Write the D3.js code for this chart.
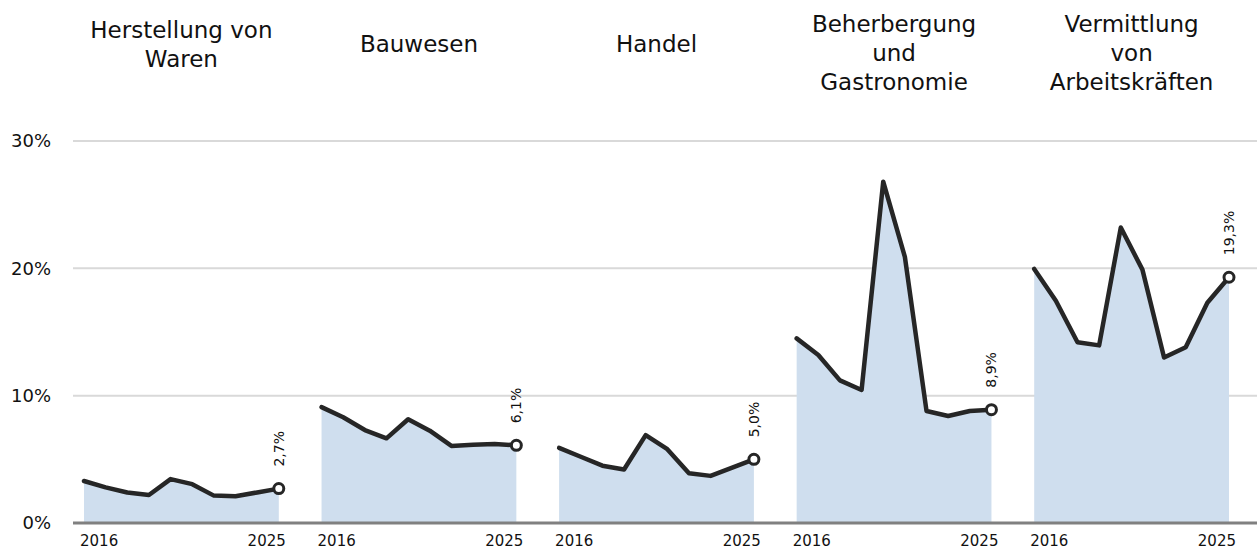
<!DOCTYPE html>
<html>
<head>
<meta charset="utf-8">
<script src="https://cdn.jsdelivr.net/npm/d3@7"></script>
<style>
  body { margin: 0; background: #fff; }
  svg { display: block; font-family: "DejaVu Sans", Verdana, sans-serif; }
</style>
</head>
<body>
<div id="chart"></div>
<script>
const years = [2016, 2017, 2018, 2019, 2020, 2021, 2022, 2023, 2024, 2025];
const sectors = [
  ["Herstellung von", "Waren"],
  ["Bauwesen"],
  ["Handel"],
  ["Beherbergung", "und", "Gastronomie"],
  ["Vermittlung", "von", "Arbeitskräften"]
];
const herstellung = [3.3, 2.8, 2.4, 2.2, 3.45, 3.05, 2.15, 2.1, 2.4, 2.7];
const bauwesen = [9.1, 8.3, 7.3, 6.65, 8.15, 7.25, 6.05, 6.15, 6.2, 6.1];
const handel = [5.9, 5.2, 4.5, 4.2, 6.9, 5.8, 3.9, 3.7, 4.35, 5.0];
const gastro = [14.5, 13.2, 11.2, 10.45, 26.8, 20.9, 8.8, 8.4, 8.8, 8.9];
const arbeit = [19.95, 17.45, 14.2, 13.95, 23.2, 19.9, 13.0, 13.8, 17.3, 19.3];
const seriesValues = [herstellung, bauwesen, handel, gastro, arbeit];
const yTicks = [0, 10, 20, 30];

const width = 1257, height = 549;
const de = d3.formatLocale({ decimal: ",", thousands: ".", grouping: [3], currency: ["", " €"] });
const fmt = de.format(".1f");

const svg = d3.select("#chart").append("svg")
  .attr("width", width).attr("height", height);

const y = d3.scaleLinear().domain([0, 30]).range([523, 141]);
const panels = d3.scaleBand().domain(d3.range(sectors.length)).range([84, 1229]).paddingInner(0.18);
const x = d3.scalePoint().domain(years).range([0, panels.bandwidth()]);

// gridlines
svg.append("g").selectAll("line")
  .data(yTicks.filter(d => d > 0))
  .join("line")
  .attr("x1", 73).attr("x2", width)
  .attr("y1", d => y(d)).attr("y2", d => y(d))
  .attr("stroke", "#d9d9d9").attr("stroke-width", 2);

// y labels
svg.append("g").selectAll("text")
  .data(yTicks)
  .join("text")
  .attr("x", 51).attr("y", d => y(d))
  .attr("dy", "0.35em")
  .attr("text-anchor", "end")
  .attr("font-size", 18)
  .attr("fill", "#111")
  .text(d => d + "%");

const area = d3.area().x((d, i) => x(years[i])).y0(y(0)).y1(d => y(d));
const line = d3.line().x((d, i) => x(years[i])).y(d => y(d));

sectors.forEach((title, k) => {
  const vals = seriesValues[k];
  const g = svg.append("g").attr("transform", "translate(" + panels(k) + ",0)");

  g.append("path").datum(vals)
    .attr("d", area)
    .attr("fill", "#cfdeee");

  g.append("path").datum(vals)
    .attr("d", line)
    .attr("fill", "none")
    .attr("stroke", "#262626")
    .attr("stroke-width", 4.5)
    .attr("stroke-linejoin", "round")
    .attr("stroke-linecap", "round");

  const last = vals[vals.length - 1];
  const lx = x(years[years.length - 1]);
  g.append("circle")
    .attr("cx", lx).attr("cy", y(last)).attr("r", 5)
    .attr("fill", "#fff").attr("stroke", "#262626").attr("stroke-width", 3);

  g.append("text")
    .attr("transform", "translate(" + (lx + 5) + "," + (y(last) - 22) + ") rotate(-90)")
    .attr("font-size", 14)
    .attr("fill", "#111")
    .text(fmt(last) + "%");

  // year labels
  g.append("text")
    .attr("x", x(years[0]) - 4).attr("y", 546)
    .attr("font-size", 15).attr("fill", "#111")
    .text(years[0]);
  g.append("text")
    .attr("x", lx + 7).attr("y", 546)
    .attr("text-anchor", "end")
    .attr("font-size", 15).attr("fill", "#111")
    .text(years[years.length - 1]);

  // title
  const n = title.length;
  const y0 = Math.max(32, 52 - (n - 1) * 14.5);
  g.append("text")
    .attr("text-anchor", "middle")
    .attr("font-size", 23)
    .attr("fill", "#111")
    .selectAll("tspan")
    .data(title)
    .join("tspan")
    .attr("x", panels.bandwidth() / 2)
    .attr("y", (d, i) => y0 + i * 29)
    .text(d => d);
});

// baseline axis
svg.append("line")
  .attr("x1", 73).attr("x2", width)
  .attr("y1", y(0)).attr("y2", y(0))
  .attr("stroke", "#808080").attr("stroke-width", 3);
</script>
</body>
</html>
